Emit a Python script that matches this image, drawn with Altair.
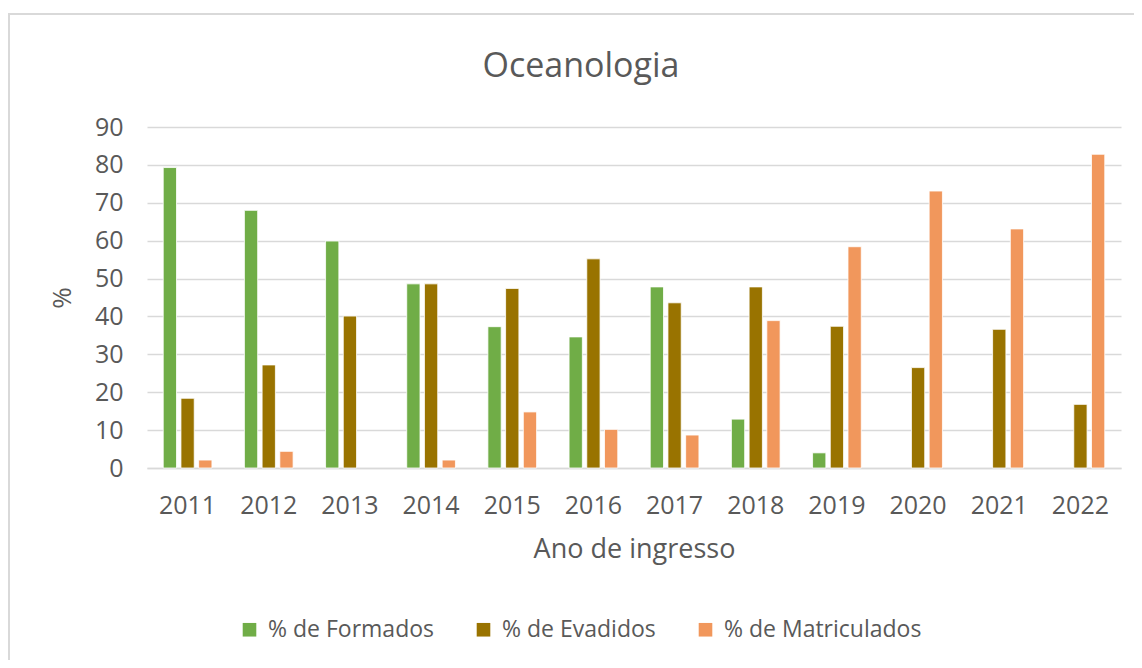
import altair as alt
import pandas as pd

years = [str(y) for y in range(2011, 2023)]
formados = [79.3, 68.0, 59.9, 48.6, 37.3, 34.6, 47.8, 12.9, 4.0, None, None, None]
evadidos = [18.4, 27.2, 40.1, 48.6, 47.4, 55.2, 43.6, 47.8, 37.4, 26.5, 36.6, 16.8]
matriculados = [2.1, 4.4, None, 2.1, 14.8, 10.2, 8.7, 38.9, 58.4, 73.1, 63.1, 82.8]
series = ["% de Formados", "% de Evadidos", "% de Matriculados"]
colors = ["#70AD47", "#997300", "#F1975C"]
y_ticks = list(range(0, 91, 10))
title_text = "Oceanologia"

rows = []
for name, vals in zip(series, [formados, evadidos, matriculados]):
    for ano, v in zip(years, vals):
        if v is not None:
            rows.append({"ano": ano, "serie": name, "valor": v})
df = pd.DataFrame(rows)

txt = "#595959"
grid = "#d9d9d9"

bars = alt.Chart(df).mark_bar(stroke="white", strokeWidth=0.8).encode(
    x=alt.X("ano:N", sort=years,
            scale=alt.Scale(paddingInner=0.4, paddingOuter=0.2),
            axis=alt.Axis(title="Ano de ingresso", labelAngle=0, ticks=False,
                          labelFontSize=25, labelColor=txt, labelPadding=25,
                          titleFontSize=27, titleFontWeight="normal", titleColor=txt,
                          titlePadding=18, domainColor=grid, domainWidth=1.3, grid=False)),
    xOffset=alt.XOffset("serie:N", sort=series,
                        scale=alt.Scale(domain=series, paddingInner=0.25, paddingOuter=0)),
    y=alt.Y("valor:Q", scale=alt.Scale(domain=[0, 90]),
            axis=alt.Axis(title="%", values=y_ticks, ticks=False, domain=False,
                          labelFontSize=25, labelColor=txt, labelPadding=24,
                          titleFontSize=26, titleFontWeight="normal", titleColor=txt,
                          titlePadding=19, gridColor=grid, gridWidth=1.3)),
    color=alt.Color("serie:N", sort=series,
                    scale=alt.Scale(domain=series, range=colors),
                    legend=alt.Legend(title=None, orient="none", direction="horizontal",
                                      legendX=91, legendY=491, symbolType="square",
                                      symbolSize=185, symbolStrokeWidth=0,
                                      labelFontSize=23, labelColor=txt, labelOffset=7,
                                      labelLimit=400, columnPadding=38)),
)

title = alt.Chart(pd.DataFrame({"t": [title_text]})).mark_text(
    fontSize=34, color=txt, align="center", baseline="alphabetic", font="Open Sans"
).encode(text="t:N", x=alt.value(434), y=alt.value(-50))

border = alt.Chart(pd.DataFrame({"a": [0]})).mark_rect(
    filled=False, stroke=grid, strokeWidth=2
).encode(
    x=alt.value(-138), x2=alt.value(1100), y=alt.value(-113), y2=alt.value(700)
)

chart = alt.layer(border, bars, title).properties(
    width=974, height=341,
    autosize=alt.AutoSizeParams(type="none"),
    padding={"left": 139, "top": 119, "right": 13, "bottom": 192},
).configure(font="Open Sans").configure_view(stroke=None)

chart.save("out.html", embed_options={"renderer": "svg", "actions": False})
